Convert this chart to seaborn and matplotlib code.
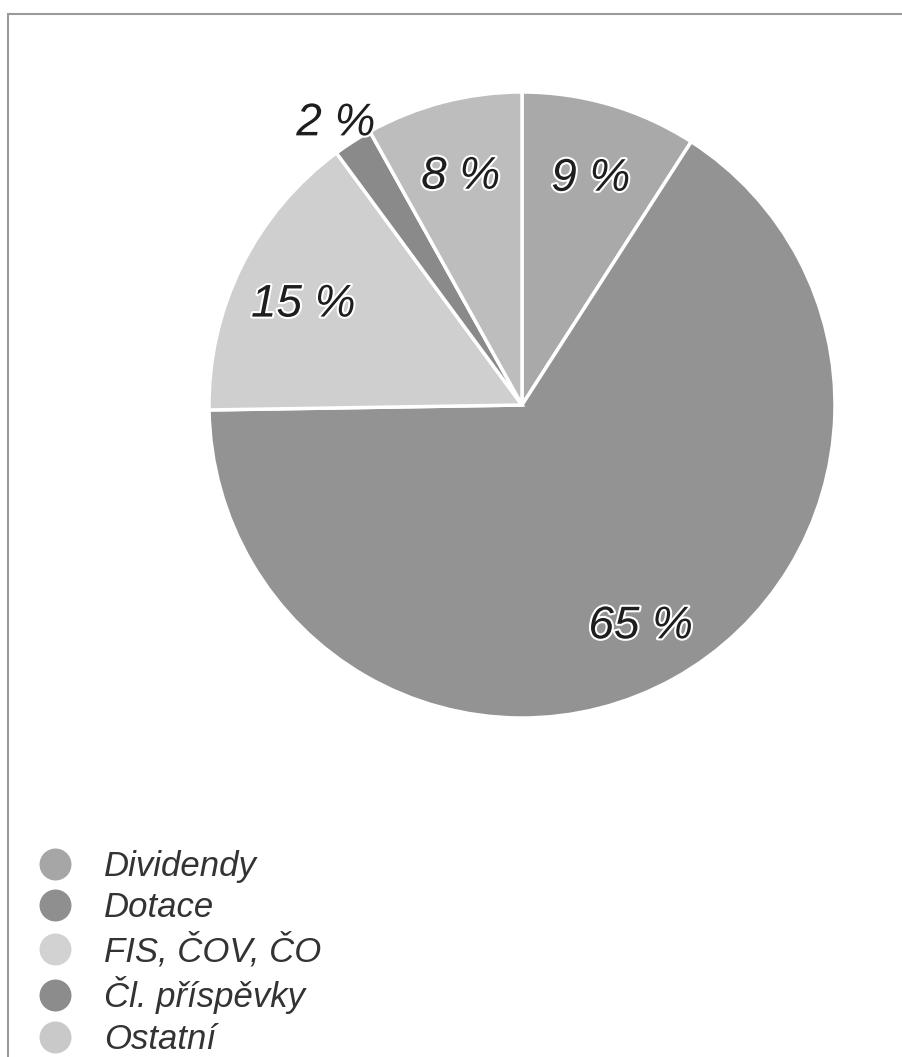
import matplotlib.pyplot as plt
import matplotlib.patheffects as pe
import matplotlib.transforms as mtransforms
import seaborn as sns
from matplotlib.lines import Line2D
from matplotlib.patches import Rectangle

# Data
categories = ["Dividendy", "Dotace", "FIS, ČOV, ČO", "Čl. příspěvky", "Ostatní"]
shares = [9, 65, 15, 2, 8]
slice_colors = ["#a9a9a9", "#939393", "#cfcfcf", "#8a8a8a", "#bdbdbd"]
legend_colors = ["#a6a6a6", "#8f8f8f", "#d2d2d2", "#8c8c8c", "#c9c9c9"]

sns.set_theme(style="white")
plt.rcParams["font.family"] = ["Liberation Sans", "DejaVu Sans"]

W, H = 903, 1057
fig = plt.figure(figsize=(W / 100, H / 100), dpi=100)
fig.patch.set_facecolor("white")

# outer frame of the chart area
fig.add_artist(Rectangle((8 / W, -0.01), 1.0, 1 - 14 / H + 0.01, transform=fig.transFigure,
                         fill=False, edgecolor="#9a9a9a", linewidth=1.5))

# pie axes: center (522, 405) px, radius 313 px
cx, cy, r = 522, 405, 313
ax = fig.add_axes([(cx - r) / W, 1 - (cy + r) / H, 2 * r / W, 2 * r / H])

total = sum(shares)
wedges, texts, autotexts = ax.pie(
    shares,
    colors=slice_colors,
    startangle=90,
    counterclock=False,
    radius=1.0,
    pctdistance=0.78,
    autopct=lambda p: f"{p * total / 100:.0f} %",
    wedgeprops=dict(edgecolor="white", linewidth=2.5),
    textprops=dict(fontsize=33, style="italic", color="#1e1e1e"),
)
ax.set_aspect("auto")
ax.set_xlim(-1, 1)
ax.set_ylim(-1, 1)
ax.axis("off")

# labels sit a little lower in the original
shift = mtransforms.offset_copy(ax.transData, fig=fig, x=0, y=-8, units="dots")
for t in autotexts:
    t.set_transform(shift)
    t.set_path_effects([pe.withStroke(linewidth=3, foreground="white")])
    t.set_clip_on(False)

# the small slice gets its label outside the pie
small = shares.index(min(shares))
x, y = autotexts[small].get_position()
scale = 1.1 / 0.78
autotexts[small].set_position((x * scale, y * scale))

handles = [Line2D([], [], marker="o", linestyle="", markersize=22, color=c) for c in legend_colors]
fig.legend(handles, categories, loc="upper left", bbox_to_anchor=(38 / W, 1 - 850 / H),
           frameon=False, borderpad=0, borderaxespad=0, handletextpad=0.9, labelspacing=0.24,
           handlelength=1.0, prop=dict(size=25, style="italic"), labelcolor="#333333")

fig.savefig("out.png", dpi=100)
